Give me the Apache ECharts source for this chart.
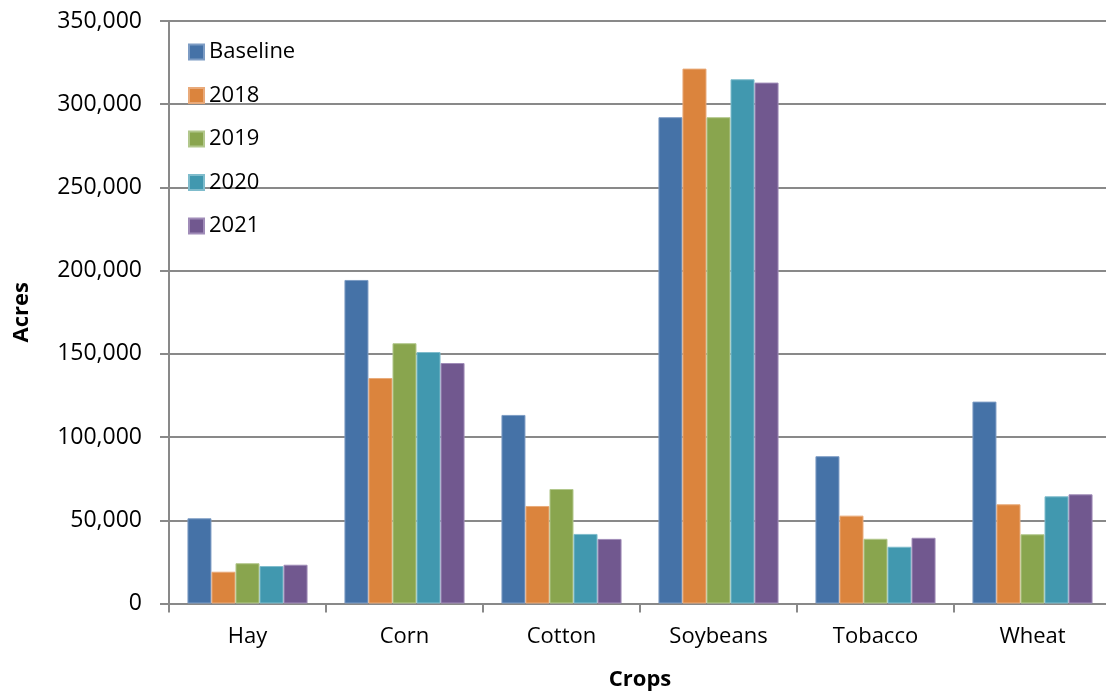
<!DOCTYPE html>
<html>
<head>
<meta charset="utf-8">
<title>Acres by Crop</title>
<script src="https://cdn.jsdelivr.net/npm/echarts@6/dist/echarts.min.js"></script>
<style>
  html, body { margin: 0; padding: 0; background: #ffffff; }
  #chart { width: 1106px; height: 691px; }
</style>
</head>
<body>
<div id="chart"></div>
<script>
// Crop categories along the x axis
const crops = ['Hay', 'Corn', 'Cotton', 'Soybeans', 'Tobacco', 'Wheat'];

// Acres per crop, one array per period
const baseline = [51200, 194400, 113300, 292200, 88500, 121300];
const y2018 = [19100, 135500, 58600, 321400, 52800, 59600];
const y2019 = [24200, 156400, 68800, 292200, 38900, 41600];
const y2020 = [22500, 151100, 41800, 315000, 34100, 64400];
const y2021 = [23300, 144500, 38800, 313000, 39500, 65600];

const seriesNames = ['Baseline', '2018', '2019', '2020', '2021'];
const seriesData = [baseline, y2018, y2019, y2020, y2021];
const colors = ['#4572A7', '#DB843D', '#89A54E', '#4198AF', '#71588F'];
const edgeColors = ['#7d9cc4', '#e9aa7a', '#b2c78c', '#7fbccc', '#a08cb8'];

const FONT = '"Open Sans", "Noto Sans", sans-serif';
const AXIS_GRAY = '#898989';

const chart = echarts.init(document.getElementById('chart'), null, { renderer: 'canvas' });

chart.setOption({
  animation: false,
  backgroundColor: '#ffffff',
  textStyle: { fontFamily: FONT },
  grid: {
    left: 169, right: -5, top: 21, bottom: 87.5,
    containLabel: false,
    outerBoundsMode: 'none'
  },
  legend: {
    orient: 'vertical',
    left: 183,
    top: 36,
    itemWidth: 15,
    itemHeight: 15,
    itemGap: 21.5,
    icon: 'rect',
    data: seriesNames,
    textStyle: { fontFamily: FONT, fontSize: 22, color: '#000000', lineHeight: 22 }
  },
  xAxis: {
    type: 'category',
    data: crops,
    name: 'Crops',
    nameLocation: 'middle',
    nameGap: 65,
    nameTextStyle: { fontFamily: FONT, fontSize: 22, fontWeight: 'bold', color: '#000000' },
    axisLine: { show: true, lineStyle: { color: AXIS_GRAY, width: 2 } },
    axisTick: { show: true, length: 9, alignWithLabel: false, lineStyle: { color: AXIS_GRAY, width: 2 } },
    axisLabel: { fontFamily: FONT, fontSize: 22, color: '#000000', margin: 22 },
    splitLine: { show: false }
  },
  yAxis: {
    type: 'value',
    min: 0,
    max: 350000,
    interval: 50000,
    name: 'Acres',
    nameLocation: 'middle',
    nameGap: 136,
    nameRotate: 90,
    nameTextStyle: { fontFamily: FONT, fontSize: 22, fontWeight: 'bold', color: '#000000' },
    axisLine: { show: true, lineStyle: { color: AXIS_GRAY, width: 2 } },
    axisTick: { show: true, length: 9, lineStyle: { color: AXIS_GRAY, width: 2 } },
    axisLabel: {
      fontFamily: FONT, fontSize: 23, color: '#000000', margin: 27,
      formatter: v => v.toLocaleString('en-US')
    },
    splitLine: { show: true, lineStyle: { color: AXIS_GRAY, width: 2 } }
  },
  series: seriesNames.map((name, i) => ({
    name: name,
    type: 'bar',
    data: seriesData[i],
    barGap: '0%',
    barCategoryGap: '23.5%',
    itemStyle: { color: colors[i], borderColor: edgeColors[i], borderWidth: 1 },
    emphasis: { disabled: true }
  }))
});
</script>
</body>
</html>
